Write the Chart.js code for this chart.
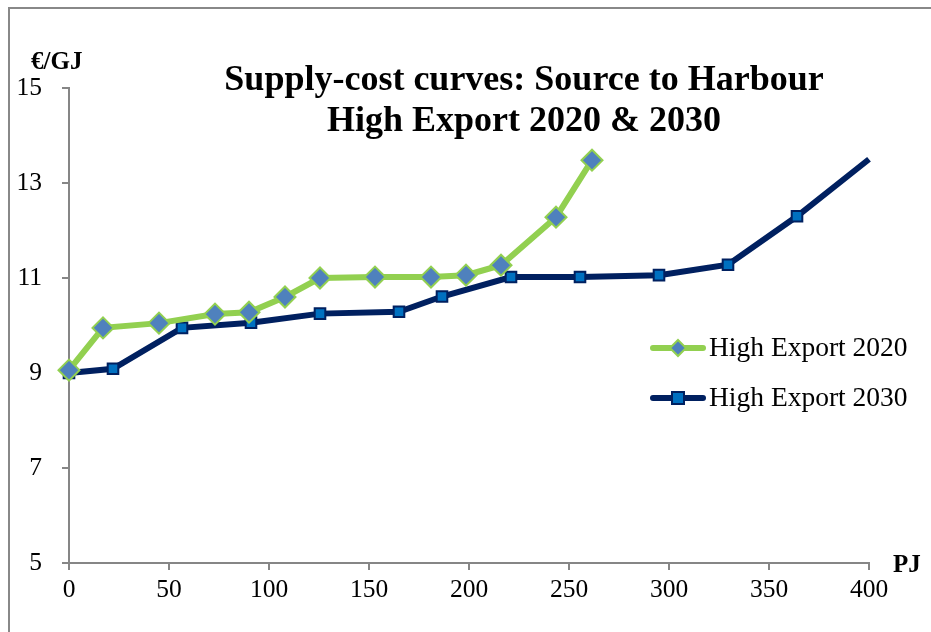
<!DOCTYPE html>
<html>
<head>
<meta charset="utf-8">
<script src="https://cdn.jsdelivr.net/npm/chart.js@4.4.1/dist/chart.umd.min.js"></script>
<style>
  html, body { margin: 0; padding: 0; background: #fff; }
  #wrap { position: relative; width: 931px; height: 632px; overflow: hidden; }
  #frame { position: absolute; left: 8px; top: 7px; width: 1000px; height: 1000px;
           border-left: 2px solid #888; border-top: 2px solid #888; }
  canvas { position: absolute; left: 0; top: 0; }
</style>
</head>
<body>
<div id="wrap">
  <div id="frame"></div>
  <canvas id="myChart" width="931" height="632"></canvas>
</div>
<script>
const serif = "'Liberation Serif', 'DejaVu Serif', serif";

// cumulative supply (PJ) and cost (EUR/GJ)
const pj2020 = [0, 17, 45, 73, 90, 108, 125.5, 153, 181, 198.5, 216, 243.5, 261.5];
const cost2020 = [9.06, 9.95, 10.05, 10.24, 10.28, 10.6, 11.0, 11.02, 11.02, 11.06, 11.27, 12.28, 13.48];
const pj2030 = [0, 22, 56.5, 91, 125.5, 165, 186.5, 221, 255.5, 295, 329.5, 364, 400];
const cost2030 = [9.0, 9.09, 9.95, 10.06, 10.25, 10.29, 10.61, 11.02, 11.02, 11.06, 11.28, 12.3, 13.5];
const seriesNames = ['High Export 2020', 'High Export 2030'];
const xTicks = [0, 50, 100, 150, 200, 250, 300, 350, 400];
const yTicks = [5, 7, 9, 11, 13, 15];

const toPoints = (xs, ys) => xs.map((x, i) => ({ x: x, y: ys[i] }));

// title, unit labels and legend drawn straight onto the canvas
const decorations = {
    id: 'decorations',
    afterDraw(chart) {
        const c = chart.ctx;
        c.save();
        c.fillStyle = '#000';
        c.textAlign = 'center';
        c.textBaseline = 'middle';
        c.font = 'bold 36px ' + serif;
        c.fillText('Supply-cost curves: Source to Harbour', 524, 81);
        c.fillText('High Export 2020 & 2030', 524, 122);
        c.font = 'bold 25px ' + serif;
        c.textAlign = 'left';
        c.fillText('€/GJ', 31, 63);
        c.fillText('PJ', 893, 566);

        const ds = chart.data.datasets;
        const rows = [348, 398];
        ds.forEach((d, i) => {
            const y = rows[i];
            c.strokeStyle = d.borderColor;
            c.lineWidth = 6;
            c.lineCap = 'round';
            c.beginPath();
            c.moveTo(653, y);
            c.lineTo(703, y);
            c.stroke();
            c.fillStyle = d.pointBackgroundColor;
            c.strokeStyle = d.pointBorderColor;
            c.lineWidth = 2;
            if (d.pointStyle === 'rectRot') {
                c.beginPath();
                c.moveTo(678, y - 8); c.lineTo(686, y); c.lineTo(678, y + 8); c.lineTo(670, y);
                c.closePath(); c.fill(); c.stroke();
            } else {
                c.fillRect(672, y - 6, 12, 12);
                c.strokeRect(672, y - 6, 12, 12);
            }
            c.fillStyle = '#000';
            c.font = '27.5px ' + serif;
            c.textAlign = 'left';
            c.fillText(d.label, 709, y + 1);
        });
        c.restore();
    }
};

const ctx = document.getElementById('myChart').getContext('2d');
const myChart = new Chart(ctx, {
    type: 'line',
    data: {
        datasets: [{
            label: seriesNames[0],
            data: toPoints(pj2020, cost2020),
            borderColor: '#92D050',
            borderWidth: 6,
            pointStyle: 'rectRot',
            pointRadius: 10.5,
            pointBackgroundColor: '#4F81BD',
            pointBorderColor: '#92D050',
            pointBorderWidth: 2,
            tension: 0,
            clip: false
        }, {
            label: seriesNames[1],
            data: toPoints(pj2030, cost2030),
            borderColor: '#002060',
            borderWidth: 6,
            pointStyle: 'rect',
            pointRadius: pj2030.map(x => x >= 400 ? 0 : 7.5),
            pointBackgroundColor: '#0070C0',
            pointBorderColor: '#002060',
            pointBorderWidth: 2,
            tension: 0,
            clip: false
        }]
    },
    options: {
        responsive: false,
        animation: false,
        events: [],
        layout: { padding: { top: 88, right: 62, left: 0, bottom: 0 } },
        plugins: {
            legend: { display: false },
            tooltip: { enabled: false }
        },
        scales: {
            x: {
                type: 'linear',
                min: 0,
                max: 400,
                afterBuildTicks: axis => { axis.ticks = xTicks.map(v => ({ value: v })); },
                afterFit: axis => { axis.height = 69; },
                grid: { drawOnChartArea: false, color: '#868686', tickLength: 7, lineWidth: 2 },
                border: { color: '#868686', width: 2 },
                ticks: { color: '#000', font: { family: serif, size: 25.5 }, padding: 5, maxRotation: 0 }
            },
            y: {
                type: 'linear',
                min: 5,
                max: 15,
                afterBuildTicks: axis => { axis.ticks = yTicks.map(v => ({ value: v })); },
                afterFit: axis => { axis.width = 69; },
                grid: { drawOnChartArea: false, color: '#868686', tickLength: 7, lineWidth: 2 },
                border: { color: '#868686', width: 2 },
                ticks: { color: '#000', font: { family: serif, size: 25.5 }, padding: 20 }
            }
        }
    },
    plugins: [decorations]
});
</script>
</body>
</html>
